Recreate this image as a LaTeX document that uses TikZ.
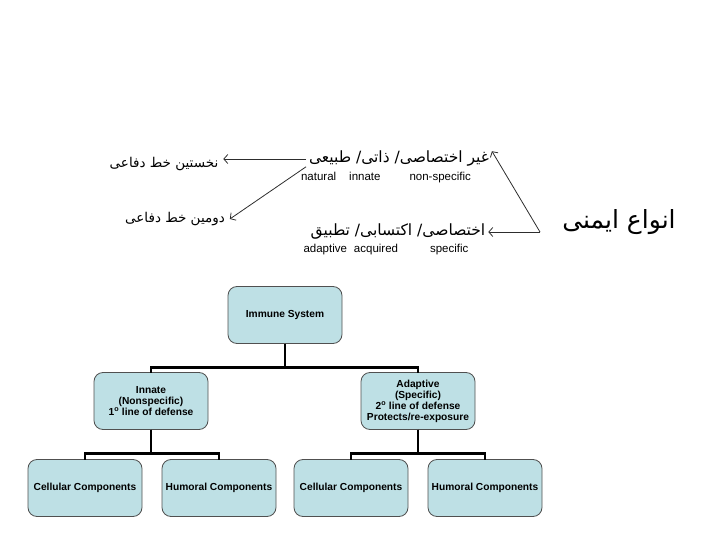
\documentclass[tikz,border=0pt]{standalone}
\usepackage{fontspec}
\setmainfont{Liberation Sans}
\newfontfamily\farsifont[Script=Arabic]{DejaVu Sans}
\TeXXeTstate=1
\definecolor{boxfill}{RGB}{190,224,229}
\definecolor{boxline}{RGB}{80,80,80}
\definecolor{arrowline}{RGB}{45,45,45}
\usetikzlibrary{arrows.meta}
\usetikzlibrary{positioning}
\tikzstyle{base}=[x=1pt, y=-1pt, inner sep=0pt, outer sep=0pt]
\tikzstyle{box}=[draw=boxline, line width=0.8pt, fill=boxfill, rounded corners=9pt, minimum width=114pt, minimum height=57pt, align=center, font=\bfseries\fontsize{10.2}{11}\selectfont]
\tikzstyle{link}=[line width=2.6pt, black]
\tikzstyle{farsi}=[font=\farsifont\fontsize{13.5}{15}\selectfont, inner xsep=5pt]
\tikzstyle{farsibig}=[farsi, font=\farsifont\fontsize{15.5}{17}\selectfont, inner xsep=3pt]
\tikzstyle{latin}=[font=\fontsize{11.5}{13}\selectfont]
\tikzstyle{arr}=[arrowline, line width=0.8pt, -{Straight Barb[length=4pt,width=9pt]}]

\begin{document}
\begin{tikzpicture}[base]
    \useasboundingbox (0,0) rectangle (720,540);
        \node [farsibig] (natfa) at (399,159) {\beginR غیر اختصاصی/ ذاتی/ طبیعی\endR};
        \node [latin] (natlat) at (386,178) {natural\hspace{13pt}innate\hspace{29pt}non-specific};
        \node [farsi] (first) at (164,164) {\beginR نخستین خط دفاعی\endR};
        \node [farsi] (second) at (175,219) {\beginR دومین خط دفاعی\endR};
        \node [farsibig] (acqfa) at (398,232) {\beginR اختصاصی/ اکتسابی/ تطبیق\endR};
        \node [latin] (acqlat) at (386,250) {adaptive\hspace{7pt}acquired\hspace{32pt}specific};
        \node [font=\farsifont\fontsize{25}{29}\selectfont] (types) at (619,222) {\beginR انواع ایمنی\endR};
        \coordinate (tip) at (540,232);
        \draw [arr] (natfa.west) -- (first.east |- natfa.west);
        \draw [arr] (natfa.south west) -- (second.east);
        \draw [arr] (tip) -- (natfa.north east);
        \draw [arr] (tip) -- (acqfa.east |- tip);

        \node [box] (imm) at (285,315) {Immune System};
        \node [box] (inn) at (151,401) {Innate\\(Nonspecific)\\1\textsuperscript{o} line of defense};
        \node [box] (adp) at (418,401) {Adaptive\\(Specific)\\2\textsuperscript{o} line of defense\\Protects/re-exposure};
        \node [box] (cel1) at (85,488) {Cellular Components};
        \node [box] (hum1) at (219,488) {Humoral Components};
        \node [box] (cel2) at (351,488) {Cellular Components};
        \node [box] (hum2) at (485,488) {Humoral Components};
        \draw [link] (imm.south) -- ++(0,24) -| (inn.north);
        \draw [link] (imm.south) -- ++(0,24) -| (adp.north);
        \draw [link] (inn.south) -- ++(0,24) -| (cel1.north);
        \draw [link] (inn.south) -- ++(0,24) -| (hum1.north);
        \draw [link] (adp.south) -- ++(0,24) -| (cel2.north);
        \draw [link] (adp.south) -- ++(0,24) -| (hum2.north);
    \end{tikzpicture}
\end{document}
